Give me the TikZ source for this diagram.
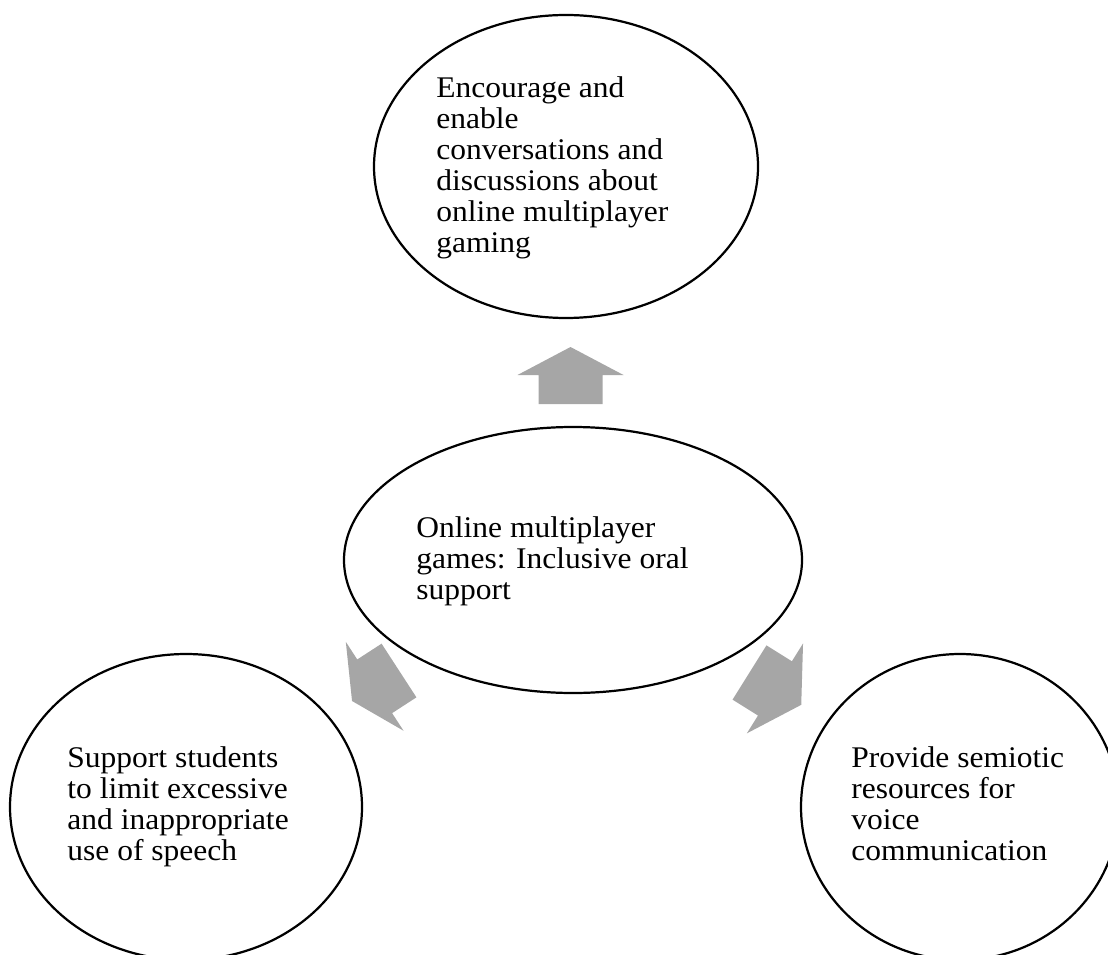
\documentclass[tikz,border=0pt]{standalone}
\usepackage{fontspec}
\setmainfont{Liberation Serif}[FakeStretch=1.05]
\usetikzlibrary{shapes.geometric}

% one drawing unit
\newcommand\upx{0.45pt}

% block arrow: #1 base point, #2 direction, #3 shaft length, #4 total length
\newcommand\blockarrow[4]{%
  \fill[blockarrowfill, shift={(#1)}, rotate=#2]
    (0,-32) -- (#3,-32) -- (#3,-53) -- (#4,0) -- (#3,53) -- (#3,32) -- (0,32) -- cycle;}

\tikzset{
  bubble/.style={draw=black, line width=1pt, ellipse, inner sep=0pt},
  bubbletext/.style={inner sep=0pt, anchor=base west,
    font=\fontsize{13.5}{13.95}\selectfont},
  blockarrowfill/.style={fill=black!35, draw=none},
}

\begin{document}
\begin{tikzpicture}[x=\upx, y=-\upx]
  \clip (0,0) rectangle (1108,954);

  % outer bubbles and the hub
  \node[bubble, minimum width=384*\upx, minimum height=303*\upx] (goal) at (566,166.5) {};
  \node[bubble, minimum width=458*\upx, minimum height=266*\upx] (hub) at (573,560) {};
  \node[bubble, minimum width=352*\upx, minimum height=306*\upx] (limit) at (186,807) {};
  \node[bubble, minimum width=318*\upx, minimum height=306*\upx] (semio) at (960,807) {};

  % texts
  \node[bubbletext] (goaltext) at (436,98) {\begin{tabular}[t]{@{}l@{}}Encourage and\\ enable\\ conversations and\\ discussions about\\ online multiplayer\\ gaming\end{tabular}};
  \node[bubbletext] (hubtext) at (416,537) {\begin{tabular}[t]{@{}l@{}}Online multiplayer\\ games: Inclusive oral\\ support\end{tabular}};
  \node[bubbletext] (limittext) at (67,767) {\begin{tabular}[t]{@{}l@{}}Support students\\ to limit excessive\\ and inappropriate\\ use of speech\end{tabular}};
  \node[bubbletext] (semiotext) at (851,767) {\begin{tabular}[t]{@{}l@{}}Provide semiotic\\ resources for\\ voice\\ communication\end{tabular}};

  % block arrows leaving the hub
  \coordinate (upbase) at (570.5,404);
  \coordinate (leftbase) at (399,670.5);
  \coordinate (rightbase) at (749.5,672.5);
  \blockarrow{upbase}{90}{29}{57}
  \blockarrow{leftbase}{213}{29}{56}
  \blockarrow{rightbase}{-32}{30}{61}
\end{tikzpicture}
\end{document}
